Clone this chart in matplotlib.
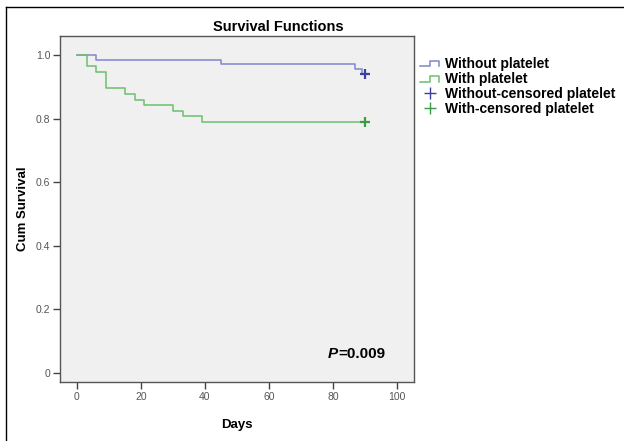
import matplotlib
matplotlib.use("Agg")
import matplotlib.pyplot as plt
from matplotlib.lines import Line2D
from matplotlib.legend_handler import HandlerBase

# ---- data ----
without_days = [0, 6, 45, 87, 89, 90]
without_surv = [1.0, 0.986, 0.971, 0.956, 0.940, 0.940]
without_censor_day = [90]
without_censor_surv = [0.940]

with_days = [0, 3, 6, 9, 15, 18, 21, 30, 33, 39, 90]
with_surv = [1.0, 0.965, 0.947, 0.895, 0.877, 0.860, 0.842, 0.825, 0.807, 0.789, 0.789]
with_censor_day = [90]
with_censor_surv = [0.789]

legend_labels = ["Without platelet", "With platelet",
                 "Without-censored platelet", "With-censored platelet"]
x_ticks = [0, 20, 40, 60, 80, 100]
y_ticks = [0, 0.2, 0.4, 0.6, 0.8, 1.0]
y_ticklabels = ["0", "0.2", "0.4", "0.6", "0.8", "1.0"]
p_text = "=0.009"

blue_line = "#7f86cc"
blue_mark = "#3b3f9e"
green_line = "#6cbf6c"
green_mark = "#3a9c46"

plt.rcParams['font.family'] = ['Liberation Sans', 'DejaVu Sans']

fig = plt.figure(figsize=(6.24, 4.41), dpi=100)
ax = fig.add_axes([60/624, 1-382/441, (414-60)/624, (382-36)/441])
ax.set_facecolor("#f0f0f0")

ax.step(without_days, without_surv, where='post', color=blue_line, lw=1.1)
ax.step(with_days, with_surv, where='post', color=green_line, lw=1.1)
ax.plot(without_censor_day, without_censor_surv, '+', color=blue_mark, ms=7, mew=1.6)
ax.plot(with_censor_day, with_censor_surv, '+', color=green_mark, ms=7, mew=1.6)

ax.set_xlim(-5.3, 105.3)
ax.set_ylim(-0.028, 1.06)
ax.set_xticks(x_ticks)
ax.set_yticks(y_ticks)
ax.set_yticklabels(y_ticklabels)
ax.tick_params(direction='out', length=5, width=1, colors='#444444',
               labelcolor='#555555', labelsize=7.5, pad=2)
for s in ax.spines.values():
    s.set_color('#555555')
    s.set_linewidth(1.0)

ax.set_xlabel("Days", fontsize=9.5, fontweight='bold')
ax.xaxis.set_label_coords(0.5, -(425-382)/346, transform=ax.transAxes)
ax.xaxis.label.set_va('center')
ax.set_ylabel("Cum Survival", fontsize=9.5, fontweight='bold')
ax.yaxis.set_label_coords(-(60-23)/354, 0.5, transform=ax.transAxes)
ax.yaxis.label.set_va('center')
fig.text(278/624, 1-27/441, "Survival Functions", fontsize=10.5,
         fontweight='bold', ha='center', va='center')

# P value text
ax.text(78.5, 0.060, "P", fontsize=11, fontweight='bold', style='italic',
        ha='left', va='center')
ax.text(81.6, 0.060, p_text, fontsize=11, fontweight='bold',
        ha='left', va='center')


class StepHandler(HandlerBase):
    def __init__(self, color):
        super().__init__()
        self.color = color

    def create_artists(self, legend, orig_handle, xdescent, ydescent,
                       width, height, fontsize, trans):
        x0, x1 = -xdescent, -xdescent + width
        yl = -ydescent + height * 0.15
        yh = -ydescent + height * 0.75
        xs = [x0, x0 + width * 0.5, x0 + width * 0.5, x1, x1]
        ys = [yl, yl, yh, yh, yl]
        ln = Line2D(xs, ys, color=self.color, lw=1.1, transform=trans)
        return [ln]


h1 = Line2D([], [], color=blue_line)
h2 = Line2D([], [], color=green_line)
h3 = Line2D([], [], color=blue_mark, marker='+', ls='none', ms=9, mew=1.0)
h4 = Line2D([], [], color=green_mark, marker='+', ls='none', ms=9, mew=1.0)
leg = fig.legend([h1, h2, h3, h4], legend_labels,
                 handler_map={h1: StepHandler(blue_line), h2: StepHandler(green_line)},
                 loc='upper left', bbox_to_anchor=(413/624, 1-50/441),
                 frameon=False, handlelength=1.4, handletextpad=0.4,
                 labelspacing=0.08, borderpad=0.0,
                 prop={'weight': 'bold', 'size': 10})

# outer frame lines (left and top)
fig.add_artist(Line2D([6/624, 6/624], [0, 1-7/441], transform=fig.transFigure,
                      color='black', lw=1.0))
fig.add_artist(Line2D([6/624, 1], [1-7/441, 1-7/441], transform=fig.transFigure,
                      color='black', lw=1.0))

fig.savefig("out.png", dpi=100)
